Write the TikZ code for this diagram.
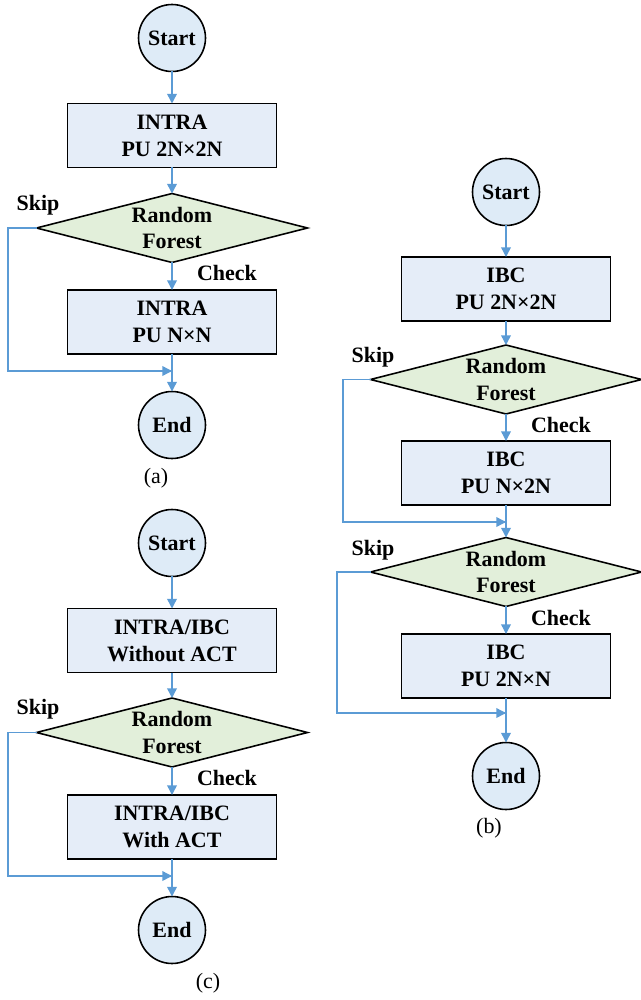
\documentclass[tikz,border=0pt]{standalone}
\usepackage{fontspec}
\setmainfont{Liberation Serif}
\usepackage{tikz}
\usetikzlibrary{positioning,arrows.meta,shapes.geometric}

\definecolor{termfill}{HTML}{DEEBF7}
\definecolor{procfill}{HTML}{E5EDF8}
\definecolor{decfill}{HTML}{E2EFDA}
\definecolor{flowline}{HTML}{5B9BD5}

\begin{document}
\begin{tikzpicture}[
            x=0.02cm, y=-0.02cm,
            outer sep=0pt,
            term/.style={
                circle, draw=black, line width=0.9pt, fill=termfill, minimum size=1.34cm, inner sep=0pt, font=\fontsize{12.5}{15.3}\selectfont\bfseries
            },
            proc/.style={
                rectangle, draw=black, line width=1.1pt, fill=procfill, minimum width=4.18cm, minimum height=1.28cm, align=center, font=\fontsize{12.5}{15.3}\selectfont\bfseries
            },
            dec/.style={
                diamond, aspect=3.93, draw=black, line width=0.9pt, fill=decfill, minimum width=5.42cm, minimum height=1.38cm, inner sep=0pt, align=center, font=\fontsize{12.5}{15.3}\selectfont\bfseries
            },
            lbl/.style={font=\fontsize{12.5}{15.3}\selectfont\bfseries, inner sep=0pt},
            subcap/.style={font=\fontsize{12.5}{15.3}\selectfont, inner sep=0pt},
            flow/.style={draw=flowline, line width=0.8pt, -{Triangle[length=5.5pt,width=5.5pt]}},
            skipln/.style={draw=flowline, line width=0.8pt}
        ]
            \useasboundingbox (0,0) rectangle (641,1000);

            % --- (a) INTRA ---
            \node[term] (aS) at (172,38) {Start};
            \node[proc] (aP1) at (172,135.5) {INTRA\\PU 2N×2N};
            \node[dec] (aD) at (172,228) {Random\\Forest};
            \node[proc] (aP2) at (172,322) {INTRA\\PU N×N};
            \node[term] (aE) at (172,425) {End};
            \node[lbl] (aSkip) at (38,205) {Skip};
            \node[lbl] (aChk) at (227,273) {Check};
            \node[subcap] (aCap) at (156,478) {(a)};
            \coordinate (aM) at (172,371);
            \coordinate (aL) at (8,228);

            \draw[flow] (aS) -- (aP1);
            \draw[flow] (aP1) -- (aD);
            \draw[flow] (aD) -- (aP2);
            \draw[flow] (aP2) -- (aE);
            \draw[skipln] (aD.west) -- (aL) |- (aM);
            \draw[flow] (aL |- aM) -- (aM);

            % --- (b) IBC ---
            \node[term] (bS) at (506,192) {Start};
            \node[proc] (bP1) at (506,289) {IBC\\PU 2N×2N};
            \node[dec] (bD1) at (506,379.5) {Random\\Forest};
            \node[proc] (bP2) at (506,473) {IBC\\PU N×2N};
            \node[dec] (bD2) at (506,572) {Random\\Forest};
            \node[proc] (bP3) at (506,666) {IBC\\PU 2N×N};
            \node[term] (bE) at (506,776) {End};
            \node[lbl] (bSkip1) at (373,357) {Skip};
            \node[lbl] (bChk1) at (561,425) {Check};
            \node[lbl] (bSkip2) at (373,550) {Skip};
            \node[lbl] (bChk2) at (561,618) {Check};
            \node[subcap] (bCap) at (489,828) {(b)};
            \coordinate (bM1) at (506,522);
            \coordinate (bL1) at (343,379.5);
            \coordinate (bM2) at (506,713);
            \coordinate (bL2) at (337,572);

            \draw[flow] (bS) -- (bP1);
            \draw[flow] (bP1) -- (bD1);
            \draw[flow] (bD1) -- (bP2);
            \draw[flow] (bP2) -- (bD2);
            \draw[flow] (bD2) -- (bP3);
            \draw[flow] (bP3) -- (bE);
            \draw[skipln] (bD1.west) -- (bL1) |- (bM1);
            \draw[flow] (bL1 |- bM1) -- (bM1);
            \draw[skipln] (bD2.west) -- (bL2) |- (bM2);
            \draw[flow] (bL2 |- bM2) -- (bM2);

            % --- (c) INTRA/IBC + ACT ---
            \node[term] (cS) at (172,543) {Start};
            \node[proc] (cP1) at (172,640.5) {INTRA/IBC\\Without ACT};
            \node[dec] (cD) at (172,732.5) {Random\\Forest};
            \node[proc] (cP2) at (172,827) {INTRA/IBC\\With ACT};
            \node[term] (cE) at (172,930) {End};
            \node[lbl] (cSkip) at (38,709) {Skip};
            \node[lbl] (cChk) at (227,778) {Check};
            \node[subcap] (cCap) at (208,983) {(c)};
            \coordinate (cM) at (172,876);
            \coordinate (cL) at (8,732.5);

            \draw[flow] (cS) -- (cP1);
            \draw[flow] (cP1) -- (cD);
            \draw[flow] (cD) -- (cP2);
            \draw[flow] (cP2) -- (cE);
            \draw[skipln] (cD.west) -- (cL) |- (cM);
            \draw[flow] (cL |- cM) -- (cM);

        \end{tikzpicture}
\end{document}
